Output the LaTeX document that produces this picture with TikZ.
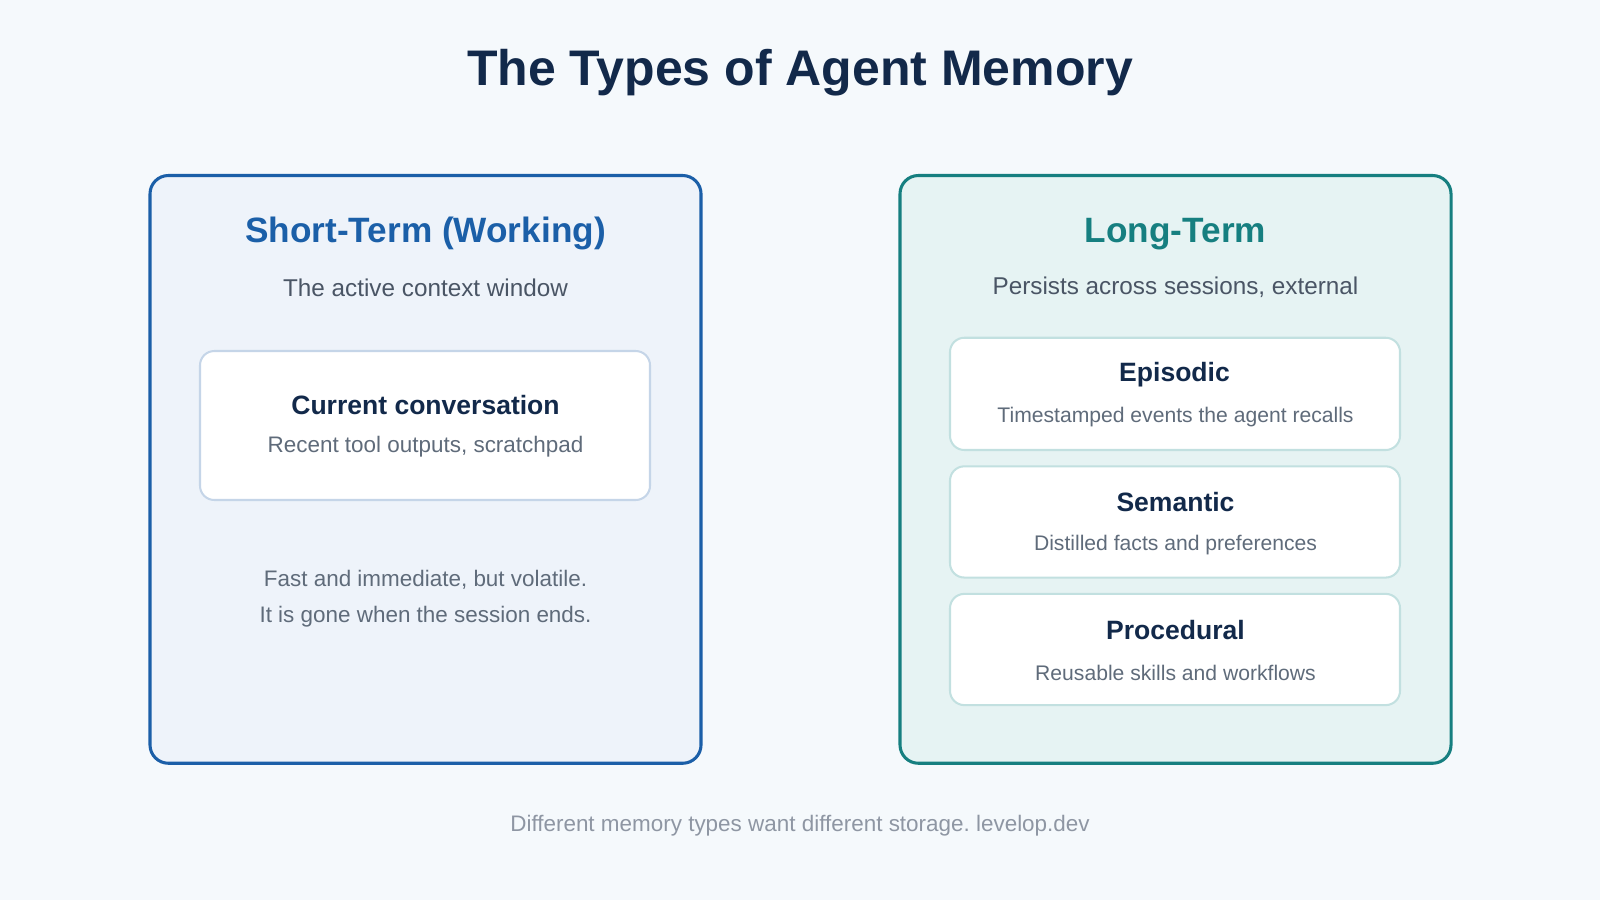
\documentclass[tikz,border=0pt]{standalone}
\usepackage{fontspec}
\setmainfont{Liberation Sans}
\frenchspacing
\definecolor{bg}{HTML}{F5F9FC}
\definecolor{navy}{HTML}{12294A}
\definecolor{blue}{HTML}{1B5FA8}
\definecolor{teal}{HTML}{167F80}
\definecolor{bfill}{HTML}{EEF3FA}
\definecolor{tfill}{HTML}{E6F3F3}
\definecolor{binner}{HTML}{C5D5E8}
\definecolor{tinner}{HTML}{C2E0E0}
\definecolor{sub}{HTML}{4A5565}
\definecolor{body}{HTML}{5F6B7A}
\definecolor{foot}{HTML}{8E96A3}
\begin{document}
\begin{tikzpicture}[x=1pt,y=-1pt,
  outer/.style={rounded corners=18pt,line width=3pt},
  inner/.style={rounded corners=14pt,line width=2pt,fill=white},
  hd/.style={font=\fontsize{34.5}{40}\selectfont\bfseries},
  sb/.style={font=\fontsize{23.8}{28}\selectfont,text=sub},
  it/.style={font=\fontsize{26}{30}\selectfont\bfseries,text=navy},
  tx/.style={font=\fontsize{20.7}{24}\selectfont,text=body}]
\fill[bg] (0,0) rectangle (1568,882);
\useasboundingbox (0,0) rectangle (1568,882);
\node[font=\fontsize{49}{56}\selectfont\bfseries,text=navy] (title) at (784,71) {The Types of Agent Memory};
% left
\draw[outer,draw=blue,fill=bfill] (147,172) rectangle (687,748);
\node[hd,text=blue] (lh) at (417,229) {Short-Term (Working)};
\node[sb] (ls) at (417,282) {The active context window};
\draw[inner,draw=binner] (196,344) rectangle (637,490);
\node[it] (cc) at (417,397) {Current conversation};
\node[tx,font=\fontsize{22}{24}\selectfont] (cct) at (417,438) {Recent tool outputs, scratchpad};
\node[tx,align=center,font=\fontsize{22}{35}\selectfont] (note) at (417,587) {Fast and immediate, but volatile.\\It is gone when the session ends.};
% right
\draw[outer,draw=teal,fill=tfill] (882,172) rectangle (1422,748);
\node[hd,text=teal] (rh) at (1152,229) {Long-Term};
\node[sb] (rs) at (1152,282) {Persists across sessions, external};
\draw[inner,draw=tinner] (931,331) rectangle (1372,441);
\node[it] (ep) at (1151,367) {Episodic};
\node[tx] (ept) at (1152,409) {Timestamped events the agent recalls};
\draw[inner,draw=tinner] (931,457) rectangle (1372,566);
\node[it] (se) at (1152,492) {Semantic};
\node[tx] (set) at (1152,534) {Distilled facts and preferences};
\draw[inner,draw=tinner] (931,582) rectangle (1372,691);
\node[it] (pr) at (1152,617) {Procedural};
\node[tx] (prt) at (1152,659) {Reusable skills and workflows};
\node[font=\fontsize{22}{26}\selectfont,text=foot] (ft) at (784,809) {Different memory types want different storage. levelop.dev};
\end{tikzpicture}
\end{document}
